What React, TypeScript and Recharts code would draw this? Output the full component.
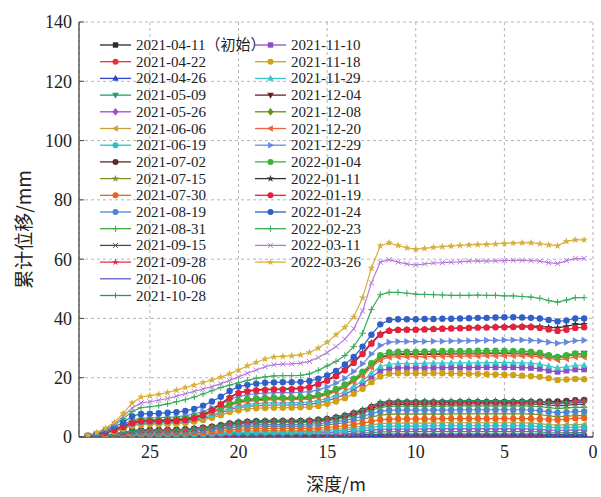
import React from 'react';
import { LineChart, Line, XAxis, YAxis, CartesianGrid, Legend } from 'recharts';

// depth (m), shallow -> deep
const DEPTH = [0.5,1,1.5,2,2.5,3,3.5,4,4.5,5,5.5,6,6.5,7,7.5,8,8.5,9,9.5,10,10.5,11,11.5,12,12.5,13,13.5,14,14.5,15,15.5,16,16.5,17,17.5,18,18.5,19,19.5,20,20.5,21,21.5,22,22.5,23,23.5,24,24.5,25,25.5,26,26.5,27,27.5,28,28.5];

const X_TICKS = [0, 5, 10, 15, 20, 25];
const Y_TICKS = [0, 20, 40, 60, 80, 100, 120, 140];

const S20210411 = [
0,0,0,0,0,0,0,0,0,0,
0,0,0,0,0,0,0,0,0,0,
0,0,0,0,0,0,0,0,0,0,
0,0,0,0,0,0,0,0,0,0,
0,0,0,0,0,0,0,0,0,0,
0,0,0,0,0,0,0];
const S20210422 = [
0.5,0.5,0.5,0.4,0.5,0.5,0.5,0.5,0.5,0.5,
0.5,0.5,0.5,0.5,0.5,0.5,0.5,0.5,0.5,0.5,
0.5,0.5,0.5,0.5,0.4,0.4,0.3,0.3,0.3,0.3,
0.2,0.2,0.2,0.2,0.2,0.2,0.2,0.2,0.2,0.2,
0.2,0.2,0.1,0.1,0.1,0.1,0.1,0.1,0.1,0.1,
0.1,0.1,0.1,0,0,0,0];
const S20210426 = [
0.9,0.9,0.9,0.8,0.9,1,1,1,1,1,
1,1,1,1,1,1,1,1,1,1,
1,1,1,0.9,0.9,0.8,0.7,0.6,0.6,0.5,
0.5,0.5,0.5,0.5,0.5,0.5,0.5,0.4,0.4,0.4,
0.4,0.3,0.3,0.3,0.2,0.2,0.2,0.2,0.2,0.2,
0.2,0.2,0.1,0.1,0.1,0,0];
const S20210509 = [
1.5,1.5,1.5,1.4,1.5,1.7,1.8,1.8,1.8,1.8,
1.8,1.8,1.8,1.8,1.8,1.8,1.8,1.8,1.8,1.8,
1.8,1.8,1.7,1.7,1.5,1.4,1.2,1.1,1,1,
0.9,0.9,0.8,0.8,0.8,0.8,0.8,0.8,0.8,0.8,
0.7,0.6,0.5,0.5,0.4,0.4,0.4,0.4,0.4,0.4,
0.4,0.3,0.2,0.2,0.1,0,0];
const S20210526 = [
2.4,2.4,2.3,2.2,2.4,2.6,2.7,2.8,2.8,2.8,
2.8,2.8,2.8,2.8,2.8,2.8,2.8,2.8,2.8,2.7,
2.7,2.7,2.7,2.6,2.4,2.1,1.9,1.7,1.6,1.5,
1.4,1.3,1.3,1.3,1.3,1.3,1.3,1.2,1.2,1.2,
1.1,1,0.8,0.7,0.7,0.6,0.6,0.6,0.6,0.6,
0.5,0.5,0.4,0.2,0.1,0.1,0];
const S20210606 = [
4.2,4.2,4.1,4,4.2,4.5,4.7,4.8,4.8,4.8,
4.8,4.8,4.8,4.8,4.8,4.8,4.8,4.7,4.7,4.7,
4.7,4.7,4.7,4.5,4.1,3.6,3.3,2.9,2.7,2.5,
2.4,2.3,2.2,2.2,2.2,2.2,2.2,2.1,2.1,2,
1.9,1.6,1.4,1.3,1.2,1.1,1,1,1,1,
0.9,0.8,0.6,0.4,0.2,0.1,0];
const S20210619 = [
3.3,3.3,3.2,3.1,3.3,3.6,3.7,3.8,3.8,3.8,
3.8,3.8,3.8,3.8,3.8,3.8,3.8,3.8,3.7,3.7,
3.7,3.7,3.7,3.6,3.2,2.9,2.6,2.3,2.1,2,
1.9,1.8,1.8,1.7,1.7,1.7,1.7,1.7,1.6,1.6,
1.5,1.3,1.1,1,0.9,0.8,0.8,0.8,0.8,0.8,
0.7,0.7,0.5,0.3,0.2,0.1,0];
const S20210702 = [
12.5,12.4,12.2,12,12,11.9,11.9,11.9,11.8,11.8,
11.8,11.8,11.8,11.8,11.8,11.7,11.7,11.7,11.7,11.7,
11.7,11.7,11.6,11.2,10.1,8.9,8,7.2,6.6,6.1,
5.8,5.5,5.4,5.4,5.4,5.4,5.3,5.3,5.2,4.9,
4.6,4,3.5,3.1,2.8,2.6,2.5,2.4,2.4,2.4,
2.3,2.1,1.5,1,0.6,0.3,0.1];
const S20210715 = [
7.2,7.2,7,6.8,7.1,7.5,7.7,7.8,7.8,7.8,
7.8,7.8,7.8,7.8,7.8,7.8,7.7,7.7,7.7,7.7,
7.7,7.7,7.6,7.4,6.7,5.9,5.3,4.8,4.4,4.1,
3.8,3.7,3.6,3.6,3.6,3.6,3.5,3.5,3.4,3.3,
3,2.7,2.3,2.1,1.9,1.7,1.6,1.6,1.6,1.6,
1.5,1.4,1,0.7,0.4,0.2,0.1];
const S20210730 = [
6.4,6.3,6,5.8,5.9,6.1,6.2,6.2,6.2,6.2,
6.2,6.2,6.2,6.2,6.2,6.2,6.2,6.1,6.1,6.1,
6.1,6.1,6,5.8,5.3,4.7,4.2,3.8,3.5,3.2,
3,2.9,2.9,2.9,2.9,2.9,2.8,2.8,2.7,2.6,
2.4,2.1,1.8,1.6,1.5,1.3,1.3,1.3,1.2,1.2,
1.2,1.1,0.8,0.5,0.3,0.2,0.1];
const S20210819 = [
8.6,8.6,8.4,8.2,8.5,8.9,9.1,9.2,9.2,9.2,
9.2,9.2,9.2,9.2,9.2,9.1,9.1,9.1,9.1,9.1,
9.1,9.1,9,8.7,7.9,7,6.3,5.6,5.2,4.8,
4.5,4.3,4.3,4.2,4.2,4.2,4.2,4.1,4,3.9,
3.6,3.1,2.8,2.4,2.2,2,1.9,1.9,1.8,1.8,
1.8,1.6,1.2,0.8,0.5,0.2,0.1];
const S20210831 = [
10,10,9.8,9.6,9.9,10.2,10.4,10.5,10.5,10.5,
10.5,10.5,10.5,10.5,10.5,10.5,10.4,10.4,10.4,10.4,
10.4,10.4,10.3,10,9,8,7.1,6.4,5.9,5.5,
5.1,4.9,4.9,4.8,4.8,4.8,4.8,4.7,4.6,4.4,
4.1,3.6,3.1,2.8,2.5,2.3,2.2,2.2,2.1,2.1,
2,1.8,1.3,0.9,0.5,0.3,0.1];
const S20210915 = [
11,11,10.7,10.5,10.8,11,11.1,11.2,11.2,11.2,
11.2,11.2,11.2,11.2,11.1,11.1,11.1,11.1,11.1,11,
11,11,10.9,10.6,9.6,8.5,7.6,6.8,6.3,5.8,
5.5,5.3,5.2,5.2,5.2,5.2,5.1,5,4.9,4.7,
4.4,3.8,3.4,3,2.7,2.5,2.4,2.3,2.2,2.2,
2.2,2,1.4,1,0.6,0.3,0.1];
const S20210928 = [
12.2,12.1,11.7,11.4,11.5,11.6,11.6,11.7,11.7,11.7,
11.7,11.7,11.7,11.6,11.6,11.6,11.6,11.6,11.5,11.5,
11.5,11.5,11.4,11,10,8.8,7.9,7.1,6.5,6,
5.7,5.5,5.4,5.3,5.3,5.3,5.3,5.2,5.1,4.9,
4.5,3.9,3.5,3.1,2.8,2.6,2.4,2.4,2.3,2.3,
2.3,2,1.5,1,0.6,0.3,0.1];
const S20211006 = [
11.6,11.6,11.3,11.1,11.4,11.7,11.9,12,12,12,
12,12,12,12,12,12,11.9,11.9,11.9,11.9,
11.9,11.9,11.8,11.4,10.3,9.1,8.2,7.3,6.7,6.2,
5.9,5.6,5.6,5.5,5.5,5.5,5.5,5.4,5.3,5,
4.7,4.1,3.6,3.2,2.9,2.6,2.5,2.5,2.4,2.4,
2.3,2.1,1.5,1,0.6,0.3,0.1];
const S20211028 = [
12,12,11.8,11.5,11.8,12.1,12.2,12.3,12.3,12.3,
12.3,12.3,12.3,12.3,12.3,12.3,12.2,12.2,12.2,12.2,
12.2,12.2,12.1,11.7,10.6,9.3,8.4,7.5,6.9,6.4,
6,5.8,5.7,5.7,5.7,5.7,5.6,5.5,5.4,5.2,
4.8,4.2,3.7,3.3,3,2.7,2.6,2.5,2.5,2.5,
2.4,2.2,1.5,1,0.6,0.3,0.1];
const S20211110 = [
22.8,22.8,22.4,22,22.4,23,23.3,23.4,23.5,23.5,
23.5,23.5,23.5,23.4,23.4,23.4,23.4,23.3,23.3,23.3,
23.3,23.3,23.1,22.3,20.2,17.9,16,14.3,13.2,12.2,
11.5,11,10.9,10.8,10.8,10.8,10.7,10.6,10.3,9.9,
9.2,8,7,6.2,5.6,5.2,4.9,4.8,4.7,4.7,
4.6,4.1,2.9,2,1.2,0.6,0.2];
const S20211118 = [
19.5,19.6,19.4,19.2,19.8,20.3,20.5,20.7,20.9,21,
21.1,21.2,21.3,21.3,21.4,21.4,21.5,21.5,21.5,21.5,
21.5,21.5,21.3,20.4,18.5,16.3,14.6,13.1,12,11.2,
10.5,10.1,10,9.9,9.9,9.9,9.8,9.7,9.5,9,
8.4,7.3,6.5,5.7,5.2,4.7,4.5,4.4,4.3,4.3,
4.2,3.8,2.7,1.8,1.1,0.5,0.2];
const S20211129 = [
24.2,24.2,23.7,23.3,23.9,24.6,24.9,25,25.1,25.1,
25.1,25.1,25,25,25,25,24.9,24.9,24.9,24.8,
24.8,24.8,24.6,23.8,21.5,19,17,15.3,14,13,
12.3,11.8,11.6,11.5,11.5,11.5,11.4,11.3,11,10.5,
9.8,8.5,7.5,6.6,6,5.5,5.3,5.1,5,5,
4.9,4.4,3.1,2.1,1.3,0.6,0.3];
const S20211204 = [
28.2,28,27.2,26.8,27.2,27.7,27.9,28,28.1,28.1,
28.1,28.1,28,28,28,28,27.9,27.9,27.9,27.8,
27.8,27.8,27.6,26.6,24.1,21.3,19,17.1,15.7,14.6,
13.7,13.2,13,12.9,12.9,12.9,12.7,12.6,12.3,11.8,
10.9,9.5,8.4,7.4,6.7,6.2,5.9,5.7,5.6,5.6,
5.5,4.9,3.5,2.4,1.4,0.7,0.3];
const S20211208 = [
27.5,27.8,27.2,26.8,27.3,27.9,28.2,28.3,28.4,28.4,
28.4,28.4,28.4,28.3,28.3,28.3,28.2,28.2,28.2,28.1,
28.1,28.1,27.9,26.9,24.3,21.5,19.2,17.3,15.8,14.7,
13.9,13.3,13.2,13,13,13,12.9,12.7,12.5,11.9,
11,9.6,8.5,7.5,6.8,6.2,5.9,5.8,5.7,5.7,
5.5,5,3.5,2.4,1.4,0.7,0.3];
const S20211220 = [
27,27,26.4,26,26.6,27.1,27.3,27.4,27.4,27.4,
27.4,27.4,27.3,27.3,27.3,27.2,27.2,27.2,27.1,27.1,
27.1,27.1,26.9,25.9,23.5,20.7,18.6,16.7,15.3,14.2,
13.4,12.8,12.7,12.6,12.6,12.6,12.4,12.3,12,11.5,
10.6,9.3,8.2,7.2,6.6,6,5.7,5.6,5.5,5.5,
5.3,4.8,3.4,2.3,1.4,0.7,0.3];
const S20211229 = [
32.6,32.5,32,31.6,32,32.4,32.6,32.7,32.7,32.7,
32.6,32.6,32.5,32.5,32.4,32.4,32.3,32.3,32.2,32.2,
32.2,32.2,32,30.9,28,24.7,22.1,19.8,18.2,16.9,
15.9,15.3,15.1,15,15,15,14.8,14.6,14.3,13.7,
12.7,11,9.8,8.6,7.8,7.2,6.8,6.7,6.5,6.5,
6.3,5.7,4.1,2.8,1.6,0.8,0.3];
const S20220104 = [
28,28.2,27.6,27,27.6,28.4,28.8,29,29,29.1,
29.1,29.1,29.1,29,29,29,29,28.9,28.9,28.8,
28.8,28.8,28.6,27.6,24.9,22,19.7,17.7,16.2,15.1,
14.2,13.6,13.5,13.3,13.3,13.3,13.2,13,12.8,12.2,
11.3,9.9,8.7,7.7,7,6.4,6.1,5.9,5.8,5.8,
5.7,5.1,3.6,2.5,1.5,0.7,0.3];
const S20220111 = [
38,38,37.3,36.8,37,37.3,37.4,37.4,37.3,37.2,
37.1,37,36.9,36.8,36.7,36.6,36.5,36.4,36.3,36.2,
36.2,36.2,36,34.8,31.8,28.3,25.3,22.8,20.8,19.2,
18,17,16.5,16.3,16.2,16.2,16.1,15.9,15.6,15,
13.4,11.2,9.2,7.5,6.4,5.9,5.6,5.5,5.4,5.4,
5.4,4.8,3.6,2.4,1.5,0.8,0.3];
const S20220119 = [
37,36.8,36.2,35.8,36.3,36.8,37,37.1,37.1,37,
37,36.9,36.9,36.8,36.7,36.6,36.5,36.4,36.3,36.2,
36.2,36.1,35.8,34.5,31.5,28,25,22.5,20.5,19,
17.8,16.8,16.3,16.1,16,16,15.9,15.7,15.4,14.8,
13.2,11,9,7.3,6.2,5.7,5.4,5.3,5.2,5.2,
5.2,4.6,3.4,2.3,1.4,0.7,0.3];
const S20220124 = [
40,40,39.3,39,39.5,40,40.2,40.3,40.4,40.4,
40.3,40.2,40.2,40.1,40,39.9,39.9,39.8,39.8,39.7,
39.7,39.7,39.5,38,34.5,30.5,27,24.5,22.3,20.8,
19.7,18.9,18.6,18.5,18.5,18.4,18.3,18,17.6,17,
15.5,13.6,12,10.6,9.5,8.8,8.4,8.2,8,7.9,
7.8,7,5,3.4,2,1,0.4];
const S20220223 = [
47,47,46.2,45.5,46,46.8,47.2,47.4,47.6,47.6,
47.8,47.8,47.9,47.8,47.8,47.8,47.9,48,48.1,48.2,
48.5,48.8,48.8,48,43,35,30.5,27.5,25.5,24,
22.5,21.3,20.8,20.7,20.7,20.6,20.3,19.8,19.1,18.3,
17.5,16.7,15.6,14.5,13.5,12.6,11.9,11.2,10.6,10.2,
9.9,8.6,6.2,4,2.4,1.2,0.4];
const S20220311 = [
60.2,60.2,59.5,58.5,58.8,59.3,59.5,59.6,59.6,59.5,
59.4,59.3,59.4,59.3,59.1,59,58.8,58.7,58.4,58,
58.4,59,59.8,59,52,42.5,36.5,33,30.5,28.5,
26.8,25.5,24.9,24.7,24.6,24.4,23.7,22.6,21.5,20.3,
19.1,18,17,16.2,15.4,14.6,13.8,13,12.4,11.9,
11.5,9.8,7,4.3,2.6,1.3,0.5];
const S20220326 = [
66.5,66.5,66,64.5,64.8,65.2,65.5,65.5,65.4,65.3,
65.1,65,64.9,64.8,64.6,64.4,64.2,64,63.6,63.3,
63.8,64.6,65.5,64.5,57,47,40.5,37,34.5,32,
30,28.5,27.7,27.4,27.2,27,26.3,25.2,24,22.6,
21.3,20.2,19.2,18.4,17.5,16.7,15.8,15,14.4,13.9,
13.5,11.5,8,5,3,1.5,0.6];

const NAMES = [
  '2021-04-11（初始）','2021-04-22','2021-04-26','2021-05-09','2021-05-26','2021-06-06',
  '2021-06-19','2021-07-02','2021-07-15','2021-07-30','2021-08-19','2021-08-31',
  '2021-09-15','2021-09-28','2021-10-06','2021-10-28','2021-11-10','2021-11-18',
  '2021-11-29','2021-12-04','2021-12-08','2021-12-20','2021-12-29','2022-01-04',
  '2022-01-11','2022-01-19','2022-01-24','2022-02-23','2022-03-11','2022-03-26',
];
const VALUES = [
  S20210411,S20210422,S20210426,S20210509,S20210526,S20210606,S20210619,S20210702,
  S20210715,S20210730,S20210819,S20210831,S20210915,S20210928,S20211006,S20211028,
  S20211110,S20211118,S20211129,S20211204,S20211208,S20211220,S20211229,S20220104,
  S20220111,S20220119,S20220124,S20220223,S20220311,S20220326,
];
const COLORS = [
  '#2b2b2b','#e8333c','#2f45c8','#1f9e6e','#a349d4','#c8a038','#2cc0c4','#5b2b2b',
  '#7f8f2a','#e8641e','#5082d8','#3caa3c','#4a4a4a','#e8304f','#5a5ac8','#26966a',
  '#8a4fc0','#d0a018','#3cc8c8','#6b1f2a','#6f8a0e','#f0643a','#6a88e0','#3cb43c',
  '#333333','#e8203c','#2f5fc8','#3aaa5a','#b478d8','#d8b03c',
];
const SHAPES = [
  'square','circle','tri','dtri','diamond','ltri','circle','circle',
  'star','circle','circle','plus','cross','star','none','plus',
  'square','circle','tri','dtri','diamond','ltri','rtri','circle',
  'star','circle','circle','plus','cross','star',
];

const SERIES = NAMES.map((name, i) => ({
  key: 's' + i, name, color: COLORS[i], shape: SHAPES[i], values: VALUES[i],
}));

const data = DEPTH.map((d, i) => {
  const row: any = { depth: d };
  SERIES.forEach((s) => { row[s.key] = s.values[i]; });
  return row;
});

const FONT = "'Liberation Serif', 'Times New Roman', 'Noto Sans CJK SC', serif";
const CJK = "'Noto Sans CJK SC', 'Liberation Serif', serif";

function drawShape(shape: string, cx: number, cy: number, color: string, s: number) {
  const pts = (arr: number[][]) => arr.map((p) => p.join(',')).join(' ');
  switch (shape) {
    case 'square':
      return <rect x={cx - s * 0.9} y={cy - s * 0.9} width={s * 1.8} height={s * 1.8} fill={color} />;
    case 'circle':
      return <circle cx={cx} cy={cy} r={s} fill={color} />;
    case 'tri':
      return <polygon points={pts([[cx, cy - s * 1.2], [cx - s * 1.1, cy + s * 0.8], [cx + s * 1.1, cy + s * 0.8]])} fill={color} />;
    case 'dtri':
      return <polygon points={pts([[cx, cy + s * 1.2], [cx - s * 1.1, cy - s * 0.8], [cx + s * 1.1, cy - s * 0.8]])} fill={color} />;
    case 'ltri':
      return <polygon points={pts([[cx - s * 1.2, cy], [cx + s * 0.8, cy - s * 1.1], [cx + s * 0.8, cy + s * 1.1]])} fill={color} />;
    case 'rtri':
      return <polygon points={pts([[cx + s * 1.2, cy], [cx - s * 0.8, cy - s * 1.1], [cx - s * 0.8, cy + s * 1.1]])} fill={color} />;
    case 'diamond':
      return <polygon points={pts([[cx, cy - s * 1.3], [cx + s, cy], [cx, cy + s * 1.3], [cx - s, cy]])} fill={color} />;
    case 'star': {
      const p: number[][] = [];
      for (let k = 0; k < 10; k++) {
        const r = k % 2 === 0 ? s * 1.25 : s * 0.5;
        const a = -Math.PI / 2 + (k * Math.PI) / 5;
        p.push([cx + r * Math.cos(a), cy + r * Math.sin(a)]);
      }
      return <polygon points={pts(p)} fill={color} />;
    }
    case 'plus':
      return (
        <g stroke={color} strokeWidth={1}>
          <line x1={cx - s} x2={cx + s} y1={cy} y2={cy} />
          <line x1={cx} x2={cx} y1={cy - s} y2={cy + s} />
        </g>
      );
    case 'cross':
      return (
        <g stroke={color} strokeWidth={1}>
          <line x1={cx - s * 0.8} x2={cx + s * 0.8} y1={cy - s * 0.8} y2={cy + s * 0.8} />
          <line x1={cx - s * 0.8} x2={cx + s * 0.8} y1={cy + s * 0.8} y2={cy - s * 0.8} />
        </g>
      );
    default:
      return null;
  }
}

const makeDot = (shape: string, color: string, key: string) => (props: any) => {
  const { cx, cy, index } = props;
  if (cx == null || cy == null) return <g key={`${key}-${index}`} />;
  return <g key={`${key}-${index}`}>{drawShape(shape, cx, cy, color, 3.2)}</g>;
};

const LegendBox = () => (
  <svg width={430} height={300} style={{ display: 'block', overflow: 'visible' }}>
    {SERIES.map((s, i) => {
      const col = i < 16 ? 0 : 1;
      const row = col ? i - 16 : i;
      const y = 45 + row * 16.7;
      const x0 = col ? 255 : 100;
      return (
        <g key={s.key}>
          <line x1={x0} x2={x0 + 31} y1={y} y2={y} stroke={s.color} strokeWidth={1.3} />
          {drawShape(s.shape, x0 + 15.5, y, s.color, 3)}
          <text x={x0 + 36} y={y + 5} fontSize={15} fontFamily={FONT} fill="#222">{s.name}</text>
        </g>
      );
    })}
  </svg>
);

const YTitle = (props: any) => {
  const vb = props.viewBox || { x: 0, y: 22, width: 79, height: 415 };
  return (
    <text transform={`translate(${vb.x + 22},${vb.y + vb.height / 2}) rotate(-90)`} textAnchor="middle"
      dominantBaseline="central" fontSize={19} fontFamily={CJK} fill="#222">累计位移/mm</text>
  );
};

const XTitle = (props: any) => {
  const vb = props.viewBox || { x: 79, y: 437, width: 514, height: 40 };
  return (
    <text x={vb.x + vb.width / 2} y={vb.y + 46} textAnchor="middle" dominantBaseline="central"
      fontSize={18} fontFamily={CJK} fill="#222">深度/m</text>
  );
};

const tickStyle = { fill: '#222', fontSize: 18, fontFamily: FONT };
const axisStroke = { stroke: '#444', strokeWidth: 1.3 };

export default function App() {
  return (
    <div style={{ position: 'absolute', left: 0, top: 0, width: 601, height: 497, background: '#fff' }}>
      <LineChart width={601} height={497} data={data} margin={{ top: 22, right: 8, bottom: 20, left: 0 }}>
        <CartesianGrid strokeDasharray="3 3" stroke="#b5b5b5" />
        <XAxis dataKey="depth" type="number" domain={[0, 29]} reversed ticks={X_TICKS} allowDataOverflow
          height={40} tickSize={-5} tickMargin={13} tick={tickStyle} axisLine={axisStroke} tickLine={{ stroke: '#444' }}
          label={<XTitle />} />
        <XAxis xAxisId="top" orientation="top" dataKey="depth" type="number" domain={[0, 29]} reversed ticks={X_TICKS}
          height={0} tickSize={-5} tick={false} axisLine={axisStroke} tickLine={{ stroke: '#444' }} />
        <YAxis domain={[0, 140]} ticks={Y_TICKS} width={79} tickSize={-5} tickMargin={12} tick={tickStyle}
          axisLine={axisStroke} tickLine={{ stroke: '#444' }} allowDataOverflow label={<YTitle />} />
        <YAxis yAxisId="right" orientation="right" domain={[0, 140]} ticks={Y_TICKS} width={0} tickSize={-5}
          tick={false} axisLine={axisStroke} tickLine={{ stroke: '#444' }} />
        <Legend layout="vertical" align="center" verticalAlign="middle" content={<LegendBox />}
          wrapperStyle={{ left: 0, top: 0, width: 430, height: 300, pointerEvents: 'none' }} />
        {SERIES.map((s) => (
          <Line key={s.key} dataKey={s.key} name={s.name} type="linear" stroke={s.color} strokeWidth={1.2}
            dot={s.shape === 'none' ? false : makeDot(s.shape, s.color, s.key)} activeDot={false}
            isAnimationActive={false} />
        ))}
      </LineChart>
    </div>
  );
}
